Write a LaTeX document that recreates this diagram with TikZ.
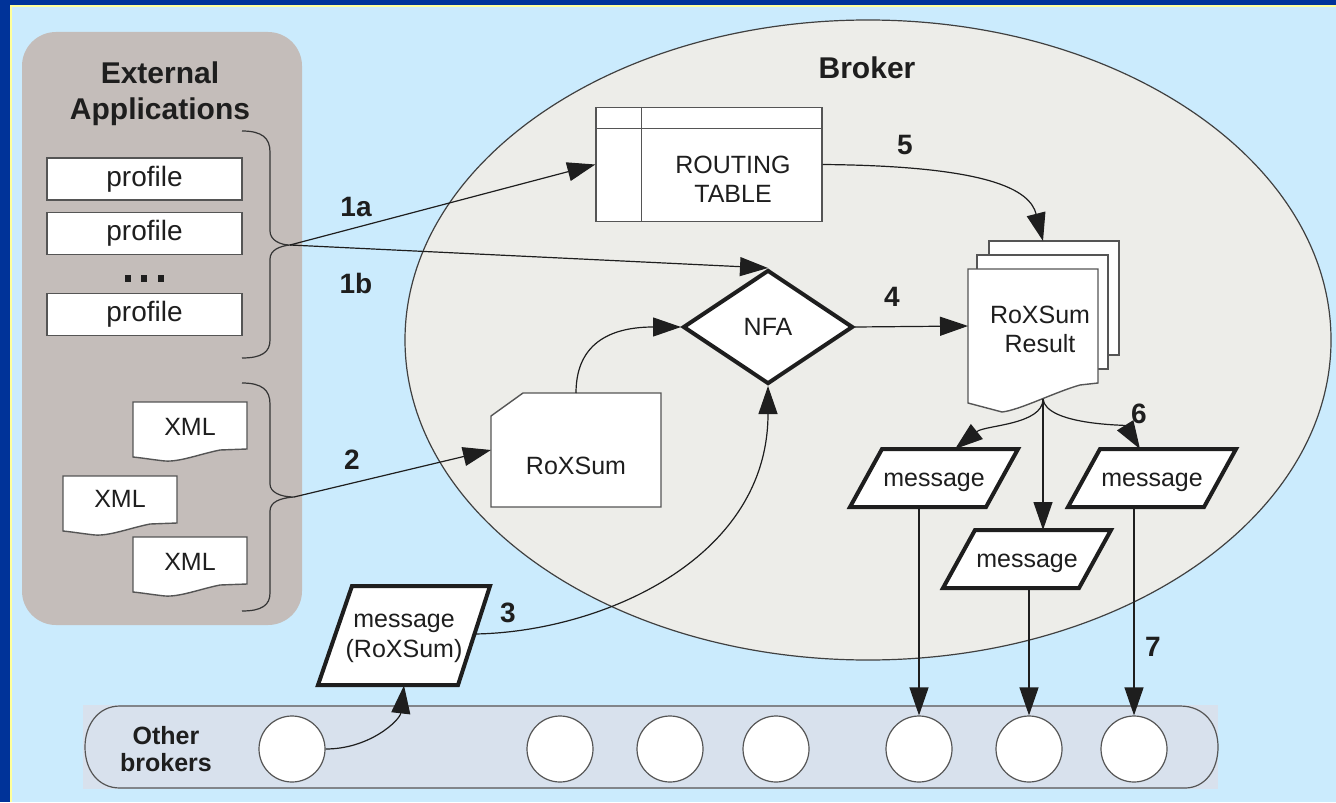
\documentclass[tikz,border=0pt]{standalone}
\usepackage{fontspec}
\setmainfont{Liberation Sans}
\usetikzlibrary{arrows.meta,shapes.geometric,calc}
\definecolor{frameblue}{HTML}{003399}
\definecolor{frameyellow}{HTML}{FFFF99}
\definecolor{bgblue}{HTML}{CBEBFD}
\definecolor{panelgray}{HTML}{C4BDBA}
\definecolor{brokerfill}{HTML}{EDEDE9}
\definecolor{barfill}{HTML}{D8E1ED}
\definecolor{edgegray}{HTML}{555555}
\definecolor{ink}{HTML}{1E1E1E}
\begin{document}
\begin{tikzpicture}[x=0.5pt,y=-0.5pt,
  conn/.style={draw=ink, line width=0.6pt, -{Triangle[length=14pt,width=9.5pt]}},
  brace/.style={draw=ink!90, line width=0.6pt},
  box/.style={draw=edgegray, line width=0.7pt, fill=white},
  lbl/.style={font=\fontsize{12.5}{14.5}\selectfont, align=center, inner sep=0pt, text=ink},
  plbl/.style={font=\fontsize{14}{16}\selectfont, text=ink},
  num/.style={font=\bfseries\fontsize{14}{16}\selectfont, text=ink, inner sep=0pt},
  title/.style={font=\bfseries\fontsize{15}{18}\selectfont, align=center, text=ink, inner sep=0pt},
  smalltitle/.style={font=\bfseries\fontsize{12.5}{13.5}\selectfont, align=center, text=ink, inner sep=0pt},
  thick shape/.style={draw=ink, line width=2pt, fill=white, line join=miter},
  holder/.style={inner sep=0pt, outer sep=0pt},
  bcirc/.style={circle, draw=edgegray, fill=white, line width=0.6pt, minimum size=33pt, inner sep=0pt},
  xmldoc/.pic={\draw[box] (0,0) -- (114,0) -- (114,47) -- (87,48) .. controls (67,52) and (47,60) .. (32,59) .. controls (22,58) and (10,56) .. (0,55) -- cycle;}
]
\useasboundingbox (0,0) rectangle (1336,802);
% background and frame
\fill[bgblue] (0,0) rectangle (1336,802);
\fill[frameblue] (0,0) rectangle (1336,5.5);
\fill[frameblue] (0,0) rectangle (9.5,802);
\draw[frameyellow, line width=1pt] (10.5,802) -- (10.5,6.5) -- (1336,6.5);

% external applications panel
\fill[panelgray, rounded corners=17pt] (22,32) rectangle (302,625);
\node[title] (ext) at (160,94) {External\\Applications};
\node[box, plbl, minimum width=97.5pt, minimum height=21pt, inner sep=0pt] (p1) at (144.5,179) {profile};
\node[box, plbl, minimum width=97.5pt, minimum height=21pt, inner sep=0pt] (p2) at (144.5,233.5) {profile};
\node[box, plbl, minimum width=97.5pt, minimum height=21pt, inner sep=0pt] (p3) at (144.5,314.5) {profile};
\fill[ink] (125,275) rectangle (131,282);
\fill[ink] (141,275) rectangle (147,282);
\fill[ink] (158,275) rectangle (164,282);
\draw[brace] (242,131) .. controls (262,131) and (270,138) .. (270,152) -- (270,231) .. controls (270,240) and (280,245) .. (290,245) .. controls (280,246) and (270,250) .. (270,259) -- (270,340) .. controls (270,352) and (262,358) .. (242,358);
\coordinate (b1) at (290,245);
\pic at (133,402) {xmldoc};
\pic at (63,476) {xmldoc};
\pic at (133,537) {xmldoc};
\node[lbl] (x1) at (190,427) {XML};
\node[lbl] (x2) at (120,499) {XML};
\node[lbl] (x3) at (190,562) {XML};
\draw[brace] (242,383) .. controls (262,383) and (270,390) .. (270,404) -- (270,484) .. controls (270,492) and (280,497) .. (294,497) .. controls (280,498) and (270,502) .. (270,511) -- (270,593) .. controls (270,605) and (262,611) .. (242,611);
\coordinate (b2) at (294,497);

% broker
\filldraw[fill=brokerfill, draw=ink!85, line width=0.6pt] (868,340) ellipse [x radius=231.5pt, y radius=160pt];
\node[title] (broker) at (867,68) {Broker};

% routing table
\node[box, minimum width=113pt, minimum height=57pt, inner sep=0pt] (rt) at (709,164.5) {};
\draw[box] ($(rt.north west)+(0,22)$) -- ($(rt.north east)+(0,22)$);
\draw[box] ($(rt.north west)+(46,0)$) -- ($(rt.south west)+(46,0)$);
\node[lbl] (rtl) at (733,179) {ROUTING\\TABLE};

% NFA
\node[diamond, thick shape, minimum width=85pt, minimum height=57pt, inner sep=0pt, lbl] (nfa) at (768,327) {NFA};

% RoXSum card
\node[holder, minimum width=85pt, minimum height=57pt] (rox) at (576,450) {};
\draw[box] ($(rox.north west)+(32,0)$) -- (rox.north east) -- (rox.south east) -- (rox.south west) -- ($(rox.north west)+(0,23)$) -- cycle;
\node[lbl] (roxl) at (576,466) {RoXSum};

% RoXSum result stack
\draw[box] (989,241) rectangle (1119,355);
\draw[box] (977,255) rectangle (1108,369);
\draw[box] (968,269) -- (1098,269) -- (1098,383) -- (1080,385) .. controls (1055,392) and (1020,410) .. (1002,412) -- (968,403) -- cycle;
\node[holder, minimum width=65pt, minimum height=57pt] (res) at (1033,326) {};
\node[lbl] (resl) at (1040,329) {RoXSum\\Result};
\coordinate (resTop) at (1043,241);
\coordinate (resB) at (1043,399);

% messages
\coordinate (m1c) at (934,478);
\draw[thick shape] ($(m1c)+(-52,-29)$) -- ($(m1c)+(84,-29)$) -- ($(m1c)+(52,29)$) -- ($(m1c)+(-84,29)$) -- cycle;
\node[holder, minimum height=29pt, minimum width=60pt] (m1) at (m1c) {};
\node[lbl] (m1l) at ($(m1c)+(0,4)$) {message};
\coordinate (m2c) at (1027,559);
\draw[thick shape] ($(m2c)+(-52,-29)$) -- ($(m2c)+(84,-29)$) -- ($(m2c)+(52,29)$) -- ($(m2c)+(-84,29)$) -- cycle;
\node[holder, minimum height=29pt, minimum width=60pt] (m2) at (m2c) {};
\node[lbl] (m2l) at ($(m2c)+(0,4)$) {message};
\coordinate (m3c) at (1152,478);
\draw[thick shape] ($(m3c)+(-52,-29)$) -- ($(m3c)+(84,-29)$) -- ($(m3c)+(52,29)$) -- ($(m3c)+(-84,29)$) -- cycle;
\node[holder, minimum height=29pt, minimum width=60pt] (m3) at (m3c) {};
\node[lbl] (m3l) at ($(m3c)+(0,4)$) {message};
\coordinate (mrc) at (404,636);
\draw[thick shape] ($(mrc)+(-52,-50)$) -- ($(mrc)+(86,-50)$) -- ($(mrc)+(54,49)$) -- ($(mrc)+(-86,49)$) -- cycle;
\node[holder, minimum height=49.5pt, minimum width=60pt] (mr) at (mrc) {};
\node[lbl, font=\fontsize{12.5}{15}\selectfont] (mrl) at ($(mrc)+(0,2)$) {message\\(RoXSum)};

% other brokers bar
\fill[barfill] (83,705) rectangle (1218,789);
\draw[edgegray, line width=0.6pt] (120,706) -- (1180,706) .. controls (1205,706) and (1218,725) .. (1218,747) .. controls (1218,770) and (1205,788) .. (1185,788) -- (120,788) .. controls (98,788) and (85,770) .. (85,747) .. controls (85,725) and (98,706) .. (120,706) -- cycle;
\node[smalltitle] (other) at (166,749) {Other\\brokers};
\foreach \i/\x in {1/292,2/560,3/670,4/776,5/919,6/1029,7/1134}
  \node[bcirc] (c\i) at (\x,749) {};

% connectors
\draw[conn] (b1) -- (rt.west);
\draw[conn] (b1) -- (nfa.north);
\draw[conn] (b2) -- (rox.west);
\draw[conn] (rox.north) .. controls (576,340) and (615,327) .. (nfa.west);
\draw[conn] (nfa.east) -- (res.west);
\draw[conn] (rt.east) .. controls (990,166) and (1030,190) .. (resTop);
\draw[conn] (resB) .. controls (1043,425) and (985,425) .. ($(m1.north)+(21,0)$);
\draw[conn] (resB) -- (resB |- m2.north);
\draw[conn] (resB) .. controls (1046,425) and (1125,425) .. ($(m3.north)+(-12,0)$);
\draw[conn] (m1.south -| c5) -- (c5.north);
\draw[conn] (m2.south -| c6) -- (c6.north);
\draw[conn] (m3.south -| c7) -- (c7.north);
\draw[conn] (c1.east) .. controls (370,749) and (400,720) .. (mr.south);
\draw[conn] ($(mrc)+(71,-2)$) .. controls (600,632) and (768,560) .. (nfa.south);

% step numbers
\node[num] (n1a) at (356,207) {1a};
\node[num] (n1b) at (356,283) {1b};
\node[num] (n2) at (352,460) {2};
\node[num] (n3) at (508,613) {3};
\node[num] (n4) at (892,297) {4};
\node[num] (n5) at (905,145) {5};
\node[num] (n6) at (1139,414) {6};
\node[num] (n7) at (1153,647) {7};
\end{tikzpicture}
\end{document}
